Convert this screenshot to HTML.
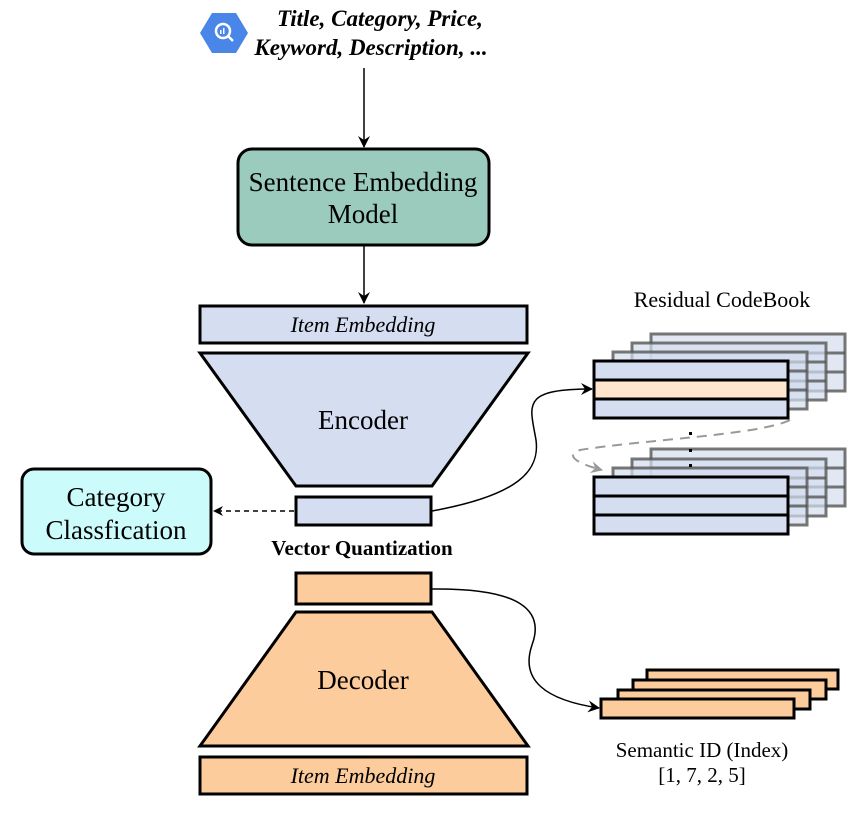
<!DOCTYPE html>
<html><head><meta charset="utf-8"><style>
body{margin:0;background:#fff;}
svg{display:block;font-family:"Liberation Serif",serif;}
</style></head><body>
<svg width="856" height="820" viewBox="0 0 856 820" xmlns="http://www.w3.org/2000/svg">
<defs>
<marker id="ah" markerWidth="10" markerHeight="10" refX="9" refY="5" orient="auto" markerUnits="userSpaceOnUse"><path d="M0,0 L10,5 L0,10 L3,5 Z" fill="#000"/></marker>
<marker id="ag" markerWidth="12" markerHeight="12" refX="11" refY="6" orient="auto" markerUnits="userSpaceOnUse"><path d="M0,0 L12,6 L0,12 L4,6 Z" fill="#999"/></marker>
<marker id="ahl" markerWidth="12" markerHeight="12" refX="11" refY="6" orient="auto" markerUnits="userSpaceOnUse"><path d="M0,0 L12,6 L0,12 L4,6 Z" fill="#000"/></marker>
</defs>
<!-- icon -->
<polygon points="200,33 212,13 236,13 248,33 236,53 212,53" fill="#4a86e8"/>
<circle cx="223" cy="31" r="7" fill="none" stroke="#fff" stroke-width="2.5"/>
<line x1="228" y1="36" x2="233" y2="41" stroke="#fff" stroke-width="2.5"/>
<rect x="220" y="30" width="1.5" height="4" fill="#fff"/><rect x="223" y="28" width="1.5" height="6" fill="#fff"/>
<text x="380" y="26" font-size="23" font-weight="bold" font-style="italic" text-anchor="middle">Title, Category, Price,</text>
<text x="371" y="55" font-size="23" font-weight="bold" font-style="italic" text-anchor="middle">Keyword, Description, ...</text>
<line x1="364" y1="68" x2="364" y2="147" stroke="#000" stroke-width="1.5" marker-end="url(#ahl)"/>
<rect x="238" y="149" width="251" height="96" rx="14" fill="#9acbbd" stroke="#000" stroke-width="3"/>
<text x="363" y="191" font-size="27" text-anchor="middle">Sentence Embedding</text>
<text x="363" y="223" font-size="27" text-anchor="middle">Model</text>
<line x1="364" y1="246" x2="364" y2="303" stroke="#000" stroke-width="1.5" marker-end="url(#ahl)"/>
<rect x="200" y="306" width="327" height="37" fill="#d4def0" stroke="#000" stroke-width="3"/>
<text x="363" y="332" font-size="22" font-style="italic" text-anchor="middle">Item Embedding</text>
<polygon points="200,353 528,353 432,486 296,486" fill="#d4def0" stroke="#000" stroke-width="3" stroke-linejoin="miter"/>
<text x="363" y="429" font-size="27" text-anchor="middle">Encoder</text>
<rect x="296" y="497" width="135" height="28" fill="#d4def0" stroke="#000" stroke-width="3"/>
<text x="362" y="555" font-size="21" font-weight="bold" text-anchor="middle">Vector Quantization</text>
<rect x="22" y="469" width="189" height="85" rx="12" fill="#ccfbfb" stroke="#000" stroke-width="3"/>
<text x="116" y="506" font-size="27" text-anchor="middle">Category</text>
<text x="116" y="539" font-size="27" text-anchor="middle">Classfication</text>
<line x1="294" y1="511" x2="214" y2="511" stroke="#000" stroke-width="1.5" stroke-dasharray="5,4" marker-end="url(#ah)"/>
<rect x="296" y="573" width="135" height="31" fill="#fccc9c" stroke="#000" stroke-width="3"/>
<polygon points="296,612 432,612 528,746 200,746" fill="#fccc9c" stroke="#000" stroke-width="3"/>
<text x="363" y="689" font-size="27" text-anchor="middle">Decoder</text>
<rect x="200" y="757" width="327" height="37" fill="#fccc9c" stroke="#000" stroke-width="3"/>
<text x="363" y="783" font-size="22" font-style="italic" text-anchor="middle">Item Embedding</text>
<!-- codebook -->
<text x="722" y="307" font-size="22" text-anchor="middle">Residual CodeBook</text>
<g stroke="#555" stroke-width="3" fill="#d4def0" fill-opacity="0.7" stroke-opacity="0.8">
<rect x="651" y="334" width="194" height="57"/><line x1="651" y1="353" x2="845" y2="353"/><line x1="651" y1="372" x2="845" y2="372"/>
<rect x="632" y="343" width="194" height="57"/><line x1="632" y1="362" x2="826" y2="362"/><line x1="632" y1="381" x2="826" y2="381"/>
<rect x="613" y="352" width="194" height="57"/><line x1="613" y1="371" x2="807" y2="371"/><line x1="613" y1="390" x2="807" y2="390"/>
<rect x="651" y="449" width="194" height="57"/><line x1="651" y1="468" x2="845" y2="468"/><line x1="651" y1="487" x2="845" y2="487"/>
<rect x="632" y="459" width="194" height="57"/><line x1="632" y1="478" x2="826" y2="478"/><line x1="632" y1="497" x2="826" y2="497"/>
<rect x="613" y="468" width="194" height="57"/><line x1="613" y1="487" x2="807" y2="487"/><line x1="613" y1="506" x2="807" y2="506"/>
</g>
<g stroke="#000" stroke-width="3">
<rect x="594" y="361" width="194" height="19" fill="#d4def0"/>
<rect x="594" y="380" width="194" height="19" fill="#fde6cc"/>
<rect x="594" y="399" width="194" height="19" fill="#d4def0"/>
<rect x="594" y="477" width="194" height="19" fill="#d4def0"/>
<rect x="594" y="496" width="194" height="19" fill="#d4def0"/>
<rect x="594" y="515" width="194" height="19" fill="#d4def0"/>
</g>
<rect x="689" y="432" width="3" height="3" fill="#000"/>
<rect x="689" y="449" width="3" height="3" fill="#000"/>
<rect x="689" y="464" width="3" height="3" fill="#000"/>
<path d="M790,420 C760,435 640,440 580,450 C565,455 575,463 602,470" fill="none" stroke="#999" stroke-width="2" stroke-dasharray="10,7" marker-end="url(#ag)"/>
<path d="M432,511 C520,495 540,470 536,440 C530,405 520,389 592,389" fill="none" stroke="#000" stroke-width="1.5" marker-end="url(#ahl)"/>
<!-- semantic id -->
<g stroke="#000" stroke-width="3" fill="#fccc9c">
<rect x="647" y="670" width="191" height="19"/>
<rect x="633" y="680" width="193" height="19"/>
<rect x="618" y="690" width="192" height="19"/>
<rect x="601" y="699" width="193" height="19"/>
</g>
<path d="M432,589 C520,588 545,610 532,645 C520,680 545,700 599,708" fill="none" stroke="#000" stroke-width="1.5" marker-end="url(#ahl)"/>
<text x="702" y="757" font-size="21" text-anchor="middle">Semantic ID (Index)</text>
<text x="702" y="782" font-size="21" text-anchor="middle">[1, 7, 2, 5]</text>
</svg>
</body></html>
